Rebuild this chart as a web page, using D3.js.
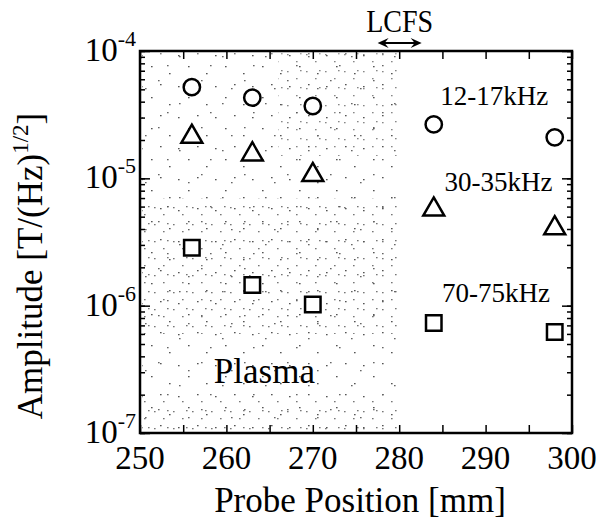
<!DOCTYPE html>
<html><head><meta charset="utf-8">
<script src="https://cdn.jsdelivr.net/npm/d3@7"></script>
<style>
html,body{margin:0;padding:0;background:#fff;}
svg{display:block;font-family:"Liberation Serif","Times New Roman",serif;}
</style></head>
<body><svg id="c" width="606" height="527"></svg>
<script>
// ---- data ----
const positions = [256, 263, 270, 284, 298];
const amp12_17 = [5.2e-5, 4.3e-5, 3.7e-5, 2.65e-5, 2.1e-5];
const amp30_35 = [2.2e-5, 1.6e-5, 1.1e-5, 5.9e-6, 4.2e-6];
const amp70_75 = [2.85e-6, 1.45e-6, 1.02e-6, 7.3e-7, 6.2e-7];
const seriesNames = ["12-17kHz", "30-35kHz", "70-75kHz"];
const seriesLabelAt = [[291, 3.8e-5], [291.5, 7.9e-6], [291.2, 1.06e-6]];
const xTicks = [250, 260, 270, 280, 290, 300];
const yTicks = [1e-7, 1e-6, 1e-5, 1e-4];
const plasmaRange = [250, 280];
const lcfsRange = [277.5, 282.6];

const svg = d3.select("#c");
const M = {l:140, r:572, t:51, b:433};
const x = d3.scaleLinear().domain([250, 300]).range([M.l, M.r]);
const y = d3.scaleLog().domain([1e-7, 1e-4]).range([M.b, M.t]);

// ---- stipple (plasma region) ----
const defs = svg.append("defs");
function pat(id, w, h, pts, col) {
  const p = defs.append("pattern").attr("id", id).attr("patternUnits", "userSpaceOnUse")
    .attr("width", w).attr("height", h);
  pts.forEach(([a, b]) => p.append("rect").attr("x", a).attr("y", b).attr("width", 1.6).attr("height", 1.3).attr("fill", col));
}
pat("p1", 37, 31, [[3,4],[21,11],[30,24],[12,22]], "#555");
pat("p2", 43, 47, [[7,9],[29,33],[16,41],[38,18]], "#666");
pat("p3", 19, 17, [[2,3],[11,10],[15,2]], "#555");
const px0 = x(plasmaRange[0]) + 2, px1 = x(plasmaRange[1]);
const g0 = svg.append("g");
function band(x0, x1, v0, v1, id, op) {
  g0.append("rect").attr("x", x0).attr("y", y(v1)).attr("width", x1 - x0).attr("height", y(v0) - y(v1))
    .attr("fill", `url(#${id})`).attr("opacity", op);
}
band(px0, px1, 1.05e-7, 9.6e-5, "p1", 1);
band(px0, px1, 1.05e-7, 9.6e-5, "p2", 1);
band(px0, px1, 6e-7, 7e-6, "p3", 0.8);
band(x(266), px1, 1.5e-5, 9.6e-5, "p3", 0.7);
band(px0, px1, 1.05e-7, 1.8e-7, "p3", 0.8);

// ---- axes ----
const minorX = d3.range(250, 301, 5);
const axB = svg.append("g").attr("transform", `translate(0,${M.b})`)
  .call(d3.axisBottom(x).tickValues(minorX).tickSizeInner(-8).tickSizeOuter(0).tickFormat(""));
const axT = svg.append("g").attr("transform", `translate(0,${M.t})`)
  .call(d3.axisTop(x).tickValues(minorX).tickSizeInner(-8).tickSizeOuter(0).tickFormat(""));
const yMinor = [];
for (let e = -7; e < -4; e++) for (let k = 1; k < 10; k++) yMinor.push(k * Math.pow(10, e));
yMinor.push(1e-4);
const axL = svg.append("g").attr("transform", `translate(${M.l},0)`)
  .call(d3.axisLeft(y).tickValues(yMinor).tickSizeInner(-5).tickSizeOuter(0).tickFormat(""));
const axR = svg.append("g").attr("transform", `translate(${M.r},0)`)
  .call(d3.axisRight(y).tickValues(yMinor).tickSizeInner(-5).tickSizeOuter(0).tickFormat(""));
[axB, axT, axL, axR].forEach(a => { a.select(".domain").remove(); a.selectAll("line").attr("stroke", "#000").attr("stroke-width", 1.5); });
svg.append("g").attr("transform", `translate(${M.l},0)`)
  .call(d3.axisLeft(y).tickValues(yTicks).tickSizeInner(-10).tickSizeOuter(0).tickFormat(""))
  .call(a => { a.select(".domain").remove(); a.selectAll("line").attr("stroke", "#000").attr("stroke-width", 1.5); });
svg.append("g").attr("transform", `translate(${M.r},0)`)
  .call(d3.axisRight(y).tickValues(yTicks).tickSizeInner(-10).tickSizeOuter(0).tickFormat(""))
  .call(a => { a.select(".domain").remove(); a.selectAll("line").attr("stroke", "#000").attr("stroke-width", 1.5); });

// frame
svg.append("rect").attr("x", M.l).attr("y", M.t).attr("width", M.r - M.l).attr("height", M.b - M.t)
  .attr("fill", "none").attr("stroke", "#000").attr("stroke-width", 2.5);

// x tick labels
svg.append("g").selectAll("text").data(xTicks).join("text")
  .attr("x", d => x(d)).attr("y", M.b + 36).attr("text-anchor", "middle")
  .attr("font-size", 33).text(d => d);
// y tick labels
const yl = svg.append("g").selectAll("text").data(yTicks).join("text")
  .attr("x", M.l - 4).attr("y", d => y(d) + 10).attr("text-anchor", "end").attr("font-size", 33);
yl.append("tspan").text("10");
yl.append("tspan").attr("font-size", 22).attr("dy", -15).text(d => "-" + Math.round(-Math.log10(d)));

// axis titles
svg.append("text").attr("x", (M.l + M.r) / 2 + 4).attr("y", 512).attr("text-anchor", "middle")
  .attr("font-size", 35).text("Probe Position [mm]");
const yt = svg.append("text").attr("transform", `translate(42,${(M.t + M.b) / 2 + 24}) rotate(-90)`)
  .attr("text-anchor", "middle").attr("font-size", 35);
yt.append("tspan").text("Amplitude [T/(Hz)");
yt.append("tspan").attr("font-size", 23).attr("dy", -14).text("1/2");
yt.append("tspan").attr("dy", 14).text("]");

// LCFS
const lx0 = x(lcfsRange[0]), lx1 = x(lcfsRange[1]), ly = 43;
svg.append("text").attr("x", (lx0 + lx1) / 2).attr("y", 32).attr("text-anchor", "middle")
  .attr("font-size", 31).attr("textLength", 67).attr("lengthAdjust", "spacingAndGlyphs").text("LCFS");
svg.append("line").attr("x1", lx0 + 3).attr("x2", lx1 - 3).attr("y1", ly).attr("y2", ly)
  .attr("stroke", "#000").attr("stroke-width", 2);
svg.append("path").attr("d", `M${lx0},${ly} L${lx0 + 11},${ly - 5} L${lx0 + 7},${ly} L${lx0 + 11},${ly + 5} Z`).attr("fill", "#000");
svg.append("path").attr("d", `M${lx1},${ly} L${lx1 - 11},${ly - 5} L${lx1 - 7},${ly} L${lx1 - 11},${ly + 5} Z`).attr("fill", "#000");

// ---- markers ----
const series = [amp12_17, amp30_35, amp70_75];
const shapes = [d3.symbolCircle, d3.symbolTriangle, d3.symbolSquare];
const sizes = [210, 190, 240];
series.forEach((vals, i) => {
  const sym = d3.symbol().type(shapes[i]).size(sizes[i]);
  svg.append("g").selectAll("path").data(positions.map((p, j) => [p, vals[j]])).join("path")
    .attr("transform", d => `translate(${x(d[0])},${y(d[1]) + (i === 1 ? 2 : 0)})`)
    .attr("d", sym).attr("fill", "#fff").attr("stroke", "#000").attr("stroke-width", 2.5);
});

// labels
svg.append("g").selectAll("text").data(seriesNames).join("text")
  .attr("x", (d, i) => x(seriesLabelAt[i][0])).attr("y", (d, i) => y(seriesLabelAt[i][1]))
  .attr("text-anchor", "middle").attr("font-size", 27).text(d => d);
svg.append("text").attr("x", x(264.4)).attr("y", y(2.48e-7)).attr("text-anchor", "middle")
  .attr("font-size", 35).text("Plasma");
</script></body></html>
